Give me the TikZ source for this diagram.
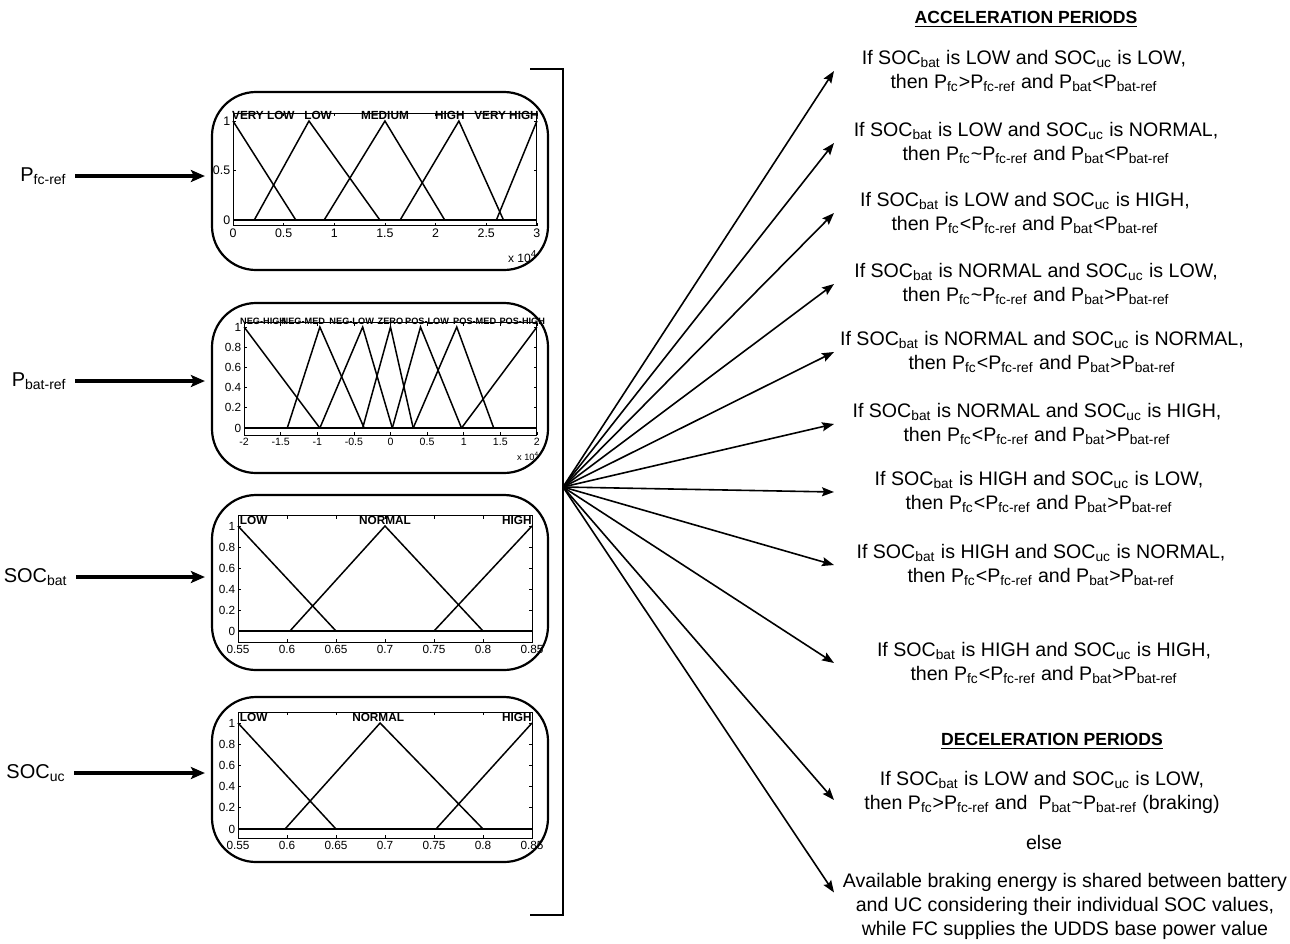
\documentclass[tikz,border=0pt]{standalone}
\usepackage{fontspec}
\setmainfont{Liberation Sans}
\usetikzlibrary{arrows.meta,positioning,calc}

\newcommand{\sbt}[1]{\textsubscript{#1}}
\newcommand{\soc}[1]{SOC\sbt{#1}}
\newcommand{\pw}[1]{P\sbt{#1}}
\newcommand{\rulefont}{\fontsize{9.8}{12}\selectfont}
\newcommand{\tckfont}{\fontsize{5.9}{6}\selectfont}

\tikzset{
  mfbox/.style={draw,line width=1.1pt,rounded corners=22pt,minimum width=168pt},
  axbox/.style={draw,line width=0.5pt},
  mfline/.style={line width=0.75pt},
  zline/.style={line width=1.2pt},
  tickln/.style={line width=0.4pt},
  xtck/.style={below,inner sep=1.2pt,font=\tckfont},
  ytck/.style={left,inner sep=1.2pt,font=\tckfont},
  lblA/.style={inner sep=0pt,font=\fontsize{5.9}{6}\selectfont\bfseries},
  lblB/.style={inner sep=0pt,font=\fontsize{4.6}{5}\selectfont\bfseries},
  inlbl/.style={anchor=east,inner sep=0pt,font=\fontsize{10}{12}\selectfont},
  inarr/.style={-{Stealth[length=7pt,width=6pt,inset=1.5pt]},line width=1.6pt,
                shorten <=4pt,shorten >=3pt},
  fan/.style={-{Stealth[length=6pt,width=4.5pt,inset=1pt]},line width=0.8pt},
  brk/.style={line width=0.9pt},
  rulenode/.style={align=center,inner sep=0pt,font=\rulefont},
  ttl/.style={inner sep=0pt,font=\fontsize{8.8}{10}\selectfont\bfseries},
}

\begin{document}
\begin{tikzpicture}[x=0.5pt,y=-0.5pt]
  \useasboundingbox (0,0) rectangle (1290,943);

  % membership function boxes
  \node[mfbox,minimum height=89pt](pfcbox) at (380,181){};
  \node[mfbox,minimum height=85pt](pbatbox) at (380,388){};
  \node[mfbox,minimum height=87.5pt](socbbox) at (380,582.5){};
  \node[mfbox,minimum height=82.5pt](socubox) at (380,779.5){};

  % Pfc-ref plot
  \begin{scope}[shift={(233,220)},x=50.65pt,y=49.5pt]
    \draw[axbox](0,-0.06) rectangle (3,1.08);
    \foreach \t in {0,0.5,1,1.5,2,2.5,3}{
      \draw[tickln](\t,-0.06) -- ++(0pt,1.5pt);
      \draw[tickln](\t,1.08) -- ++(0pt,-1.5pt);
      \node[xtck,font=\fontsize{6.2}{7}\selectfont] at (\t,-0.06){\t};}
    \foreach \v in {0,0.5,1}{
      \draw[tickln](0,\v) -- ++(1.5pt,0pt);
      \draw[tickln](3,\v) -- ++(-1.5pt,0pt);
      \node[ytck,font=\fontsize{6.2}{7}\selectfont] at (0,\v){\v};}
    \draw[zline](0,0) -- (3,0);
    \draw[mfline](0,1) -- (0.62,0);
    \draw[mfline](0.21,0) -- (0.75,1) -- (1.45,0);
    \draw[mfline](0.9,0) -- (1.5,1) -- (2.09,0);
    \draw[mfline](1.65,0) -- (2.23,1) -- (2.67,0);
    \draw[mfline](2.6,0) -- (3,1);
    \node[lblA] at (0.30,1.06){VERY LOW};
    \node[lblA] at (0.84,1.06){LOW};
    \node[lblA] at (1.50,1.06){MEDIUM};
    \node[lblA] at (2.14,1.06){HIGH};
    \node[lblA] at (2.70,1.06){VERY HIGH};
    \node[font=\fontsize{6}{7}\selectfont,inner sep=0pt] at (2.86,-0.37){x 10\textsuperscript{4}};
  \end{scope}

  % Pbat-ref plot
  \begin{scope}[shift={(390.5,428)},x=36.6pt,y=50.5pt]
    \draw[axbox](-2,-0.07) rectangle (2,1.04);
    \foreach \t in {-2,-1.5,-1,-0.5,0,0.5,1,1.5,2}{
      \draw[tickln](\t,-0.07) -- ++(0pt,1.5pt);
      \draw[tickln](\t,1.04) -- ++(0pt,-1.5pt);
      \node[xtck,font=\fontsize{5.3}{6}\selectfont] at (\t,-0.07){\t};}
    \foreach \v in {0,0.2,0.4,0.6,0.8,1}{
      \draw[tickln](-2,\v) -- ++(1.5pt,0pt);
      \draw[tickln](2,\v) -- ++(-1.5pt,0pt);
      \node[ytck] at (-2,\v){\v};}
    \draw[zline](-2,0) -- (2,0);
    \draw[mfline](-2,1) -- (-0.965,0);
    \draw[mfline](-1.41,0) -- (-0.965,1) -- (-0.36,0);
    \draw[mfline](-0.965,0) -- (-0.38,1) -- (0.025,0);
    \draw[mfline](-0.38,0) -- (0,1) -- (0.31,0);
    \draw[mfline](0.025,0) -- (0.41,1) -- (0.97,0);
    \draw[mfline](0.31,0) -- (0.905,1) -- (1.41,0);
    \draw[mfline](0.97,0) -- (2,1);
    \node[lblB] at (-1.74,1.06){NEG-HIGH};
    \node[lblB] at (-1.19,1.06){NEG-MED};
    \node[lblB] at (-0.53,1.06){NEG-LOW};
    \node[lblB] at (0.00,1.06){ZERO};
    \node[lblB] at (0.50,1.06){POS-LOW};
    \node[lblB] at (1.15,1.06){POS-MED};
    \node[lblB] at (1.80,1.06){POS-HIGH};
    \node[font=\fontsize{4.6}{5}\selectfont,inner sep=0pt] at (1.88,-0.28){x 10\textsuperscript{4}};
  \end{scope}

  % SOCbat plot
  \begin{scope}[shift={(238,631)},x=24.5pt,y=52.5pt]
    \draw[axbox](0,-0.105) rectangle (6,1.10);
    \foreach \u/\l in {0/0.55,1/0.6,2/0.65,3/0.7,4/0.75,5/0.8,6/0.85}{
      \draw[tickln](\u,-0.105) -- ++(0pt,1.5pt);
      \draw[tickln](\u,1.10) -- ++(0pt,-1.5pt);
      \node[xtck] at (\u,-0.105){\l};}
    \foreach \v in {0,0.2,0.4,0.6,0.8,1}{
      \draw[tickln](0,\v) -- ++(1.5pt,0pt);
      \draw[tickln](6,\v) -- ++(-1.5pt,0pt);
      \node[ytck] at (0,\v){\v};}
    \draw[zline](0,0) -- (6,0);
    \draw[mfline](0,1) -- (2,0);
    \draw[mfline](1.06,0) -- (3,1) -- (5,0);
    \draw[mfline](4,0) -- (6,1);
    \node[lblA,anchor=west] at (0.03,1.05){LOW};
    \node[lblA] at (3.0,1.05){NORMAL};
    \node[lblA,anchor=east] at (6,1.05){HIGH};
  \end{scope}

  % SOCuc plot
  \begin{scope}[shift={(238,829)},x=24.5pt,y=53pt]
    \draw[axbox](0,-0.085) rectangle (6,1.10);
    \foreach \u/\l in {0/0.55,1/0.6,2/0.65,3/0.7,4/0.75,5/0.8,6/0.85}{
      \draw[tickln](\u,-0.085) -- ++(0pt,1.5pt);
      \draw[tickln](\u,1.10) -- ++(0pt,-1.5pt);
      \node[xtck] at (\u,-0.085){\l};}
    \foreach \v in {0,0.2,0.4,0.6,0.8,1}{
      \draw[tickln](0,\v) -- ++(1.5pt,0pt);
      \draw[tickln](6,\v) -- ++(-1.5pt,0pt);
      \node[ytck] at (0,\v){\v};}
    \draw[zline](0,0) -- (6,0);
    \draw[mfline](0,1) -- (2,0);
    \draw[mfline](0.96,0) -- (2.9,1) -- (5,0);
    \draw[mfline](4.04,0) -- (6,1);
    \node[lblA,anchor=west] at (0.03,1.05){LOW};
    \node[lblA] at (2.86,1.05){NORMAL};
    \node[lblA,anchor=east] at (6,1.05){HIGH};
  \end{scope}

  % inputs
  \node[inlbl](pfc) at (67,176){\pw{fc-ref}};
  \node[inlbl](pbat) at (67,381){\pw{bat-ref}};
  \node[inlbl](socb) at (68,577){\soc{bat}};
  \node[inlbl](socu) at (66,773){\soc{uc}};
  \draw[inarr](pfc.east) -- (pfc.east -| pfcbox.west);
  \draw[inarr](pbat.east) -- (pbat.east -| pbatbox.west);
  \draw[inarr](socb.east) -- (socb.east -| socbbox.west);
  \draw[inarr](socu.east) -- (socu.east -| socubox.west);

  % bracket and fan
  \draw[brk](530,69) -| (563,915) -- (530,915);
  \coordinate(hub) at (563,487);
  \coordinate(tipx) at (834,0);

  % rules
  \node[ttl](acc) at (1026,19){\underline{ACCELERATION PERIODS}};
  \node[rulenode](r1) at (1024,71){If \soc{bat} is LOW and \soc{uc} is LOW,\\then \pw{fc}>\pw{fc-ref} and \pw{bat}<\pw{bat-ref}};
  \node[rulenode](r2) at (1036,143){If \soc{bat} is LOW and \soc{uc} is NORMAL,\\then \pw{fc}\textasciitilde\pw{fc-ref} and \pw{bat}<\pw{bat-ref}};
  \node[rulenode](r3) at (1025,213){If \soc{bat} is LOW and \soc{uc} is HIGH,\\then \pw{fc}<\pw{fc-ref} and \pw{bat}<\pw{bat-ref}};
  \node[rulenode](r4) at (1036,284){If \soc{bat} is NORMAL and \soc{uc} is LOW,\\then \pw{fc}\textasciitilde\pw{fc-ref} and \pw{bat}>\pw{bat-ref}};
  \node[rulenode](r5) at (1042,352){If \soc{bat} is NORMAL and \soc{uc} is NORMAL,\\then \pw{fc}<\pw{fc-ref} and \pw{bat}>\pw{bat-ref}};
  \node[rulenode](r6) at (1037,424){If \soc{bat} is NORMAL and \soc{uc} is HIGH,\\then \pw{fc}<\pw{fc-ref} and \pw{bat}>\pw{bat-ref}};
  \node[rulenode](r7) at (1039,492){If \soc{bat} is HIGH and \soc{uc} is LOW,\\then \pw{fc}<\pw{fc-ref} and \pw{bat}>\pw{bat-ref}};
  \node[rulenode](r8) at (1041,565){If \soc{bat} is HIGH and \soc{uc} is NORMAL,\\then \pw{fc}<\pw{fc-ref} and \pw{bat}>\pw{bat-ref}};
  \node[rulenode](r9) at (1044,663){If \soc{bat} is HIGH and \soc{uc} is HIGH,\\then \pw{fc}<\pw{fc-ref} and \pw{bat}>\pw{bat-ref}};
  \node[ttl](dcl) at (1052,741){\underline{DECELERATION PERIODS}};
  \node[rulenode](dec) at (1042,792){If \soc{bat} is LOW and \soc{uc} is LOW,\\then \pw{fc}>\pw{fc-ref} and \ \pw{bat}\textasciitilde\pw{bat-ref} (braking)};
  \node[rulenode](els) at (1044,842){else};
  \node[rulenode](avail) at (1065,906){Available braking energy is shared between battery\\and UC considering their individual SOC values,\\while FC supplies the UDDS base power value};

  % Arrows
  \draw[fan](hub) -- (tipx |- r1.west);
  \draw[fan](hub) -- (tipx |- r2.west);
  \draw[fan](hub) -- (tipx |- r3.west);
  \draw[fan](hub) -- (tipx |- r4.west);
  \draw[fan](hub) -- (tipx |- r5.west);
  \draw[fan](hub) -- (tipx |- r6.west);
  \draw[fan](hub) -- (tipx |- r7.west);
  \draw[fan](hub) -- (tipx |- r8.west);
  \draw[fan](hub) -- (tipx |- r9.west);
  \draw[fan](hub) -- ([yshift=-4pt]tipx |- dec.west);
  \draw[fan](hub) -- ([yshift=-10pt]tipx |- avail.north);
\end{tikzpicture}
\end{document}
